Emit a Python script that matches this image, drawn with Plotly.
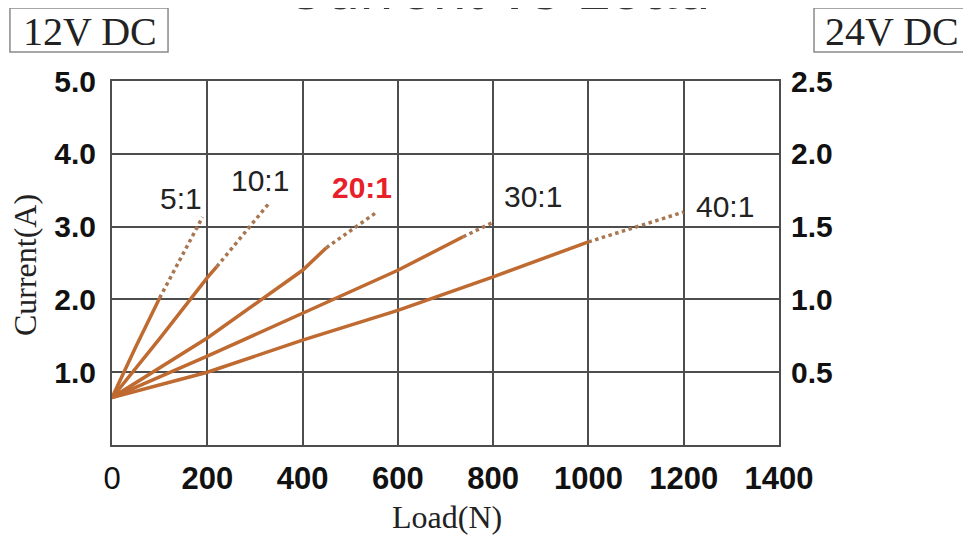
import plotly.graph_objects as go

# ---- data ----
ratios = ["5:1", "10:1", "20:1", "30:1", "40:1"]

load_5 = [0, 50, 100];              cur_5 = [0.65, 1.35, 2.02]
load_5_ext = [100, 190];            cur_5_ext = [2.02, 3.13]

load_10 = [0, 100, 200, 220];       cur_10 = [0.65, 1.46, 2.30, 2.45]
load_10_ext = [220, 332];           cur_10_ext = [2.45, 3.34]

load_20 = [0, 200, 400, 450];       cur_20 = [0.65, 1.47, 2.40, 2.71]
load_20_ext = [450, 556];           cur_20_ext = [2.71, 3.20]

load_30 = [0, 200, 400, 600, 737];  cur_30 = [0.65, 1.22, 1.81, 2.40, 2.86]
load_30_ext = [737, 797];           cur_30_ext = [2.86, 3.05]

load_40 = [0, 200, 400, 600, 800, 1000]; cur_40 = [0.65, 1.00, 1.44, 1.85, 2.31, 2.79]
load_40_ext = [1000, 1200];         cur_40_ext = [2.79, 3.20]

label_x = [145, 311, 525, 884, 1287]
label_y = [3.39, 3.63, 3.54, 3.41, 3.27]

x_ticks = [0, 200, 400, 600, 800, 1000, 1200, 1400]
y_ticks = [1.0, 2.0, 3.0, 4.0, 5.0]
y2_ticks = [0.5, 1.0, 1.5, 2.0, 2.5]

solid = [(load_5, cur_5), (load_10, cur_10), (load_20, cur_20), (load_30, cur_30), (load_40, cur_40)]
ext = [(load_5_ext, cur_5_ext), (load_10_ext, cur_10_ext), (load_20_ext, cur_20_ext),
       (load_30_ext, cur_30_ext), (load_40_ext, cur_40_ext)]

LINE = "#bf6a30"
DOT = "#a87650"
GRID = "#4d4d4d"
SANS = "Liberation Sans, Arial, sans-serif"
SERIF = "Liberation Serif, Times New Roman, serif"

fig = go.Figure()
for (lx, cy), (ex, ey) in zip(solid, ext):
    fig.add_trace(go.Scatter(x=ex, y=ey, mode="lines", line=dict(color=DOT, width=3.5, dash="dot"),
                             showlegend=False, hoverinfo="skip"))
    fig.add_trace(go.Scatter(x=lx, y=cy, mode="lines", line=dict(color=LINE, width=3.5),
                             showlegend=False, hoverinfo="skip"))

# 24V axis carrier (24V current is half of 12V current)
fig.add_trace(go.Scatter(x=load_40, y=[c / 2 for c in cur_40], yaxis="y2", mode="lines",
                         line=dict(width=0), opacity=0, showlegend=False, hoverinfo="skip"))

for i, r in enumerate(ratios):
    red = r == "20:1"
    fig.add_annotation(x=label_x[i], y=label_y[i], xref="x", yref="y",
                       text=("<b>%s</b>" % r) if red else r, xanchor="center", yanchor="middle",
                       showarrow=False, font=dict(family=SANS, size=30, color="#e8202a" if red else "#222"))

x_text = ["0"] + ["<b>%d</b>" % v for v in x_ticks[1:]]

fig.update_layout(
    width=963, height=528,
    margin=dict(l=104, r=192, t=73, b=91),
    paper_bgcolor="white", plot_bgcolor="white",
    xaxis=dict(range=[0, 1400], tickvals=x_ticks, ticktext=x_text,
               showgrid=True, gridcolor=GRID, gridwidth=1.5,
               showline=True, linecolor=GRID, linewidth=2, mirror=True,
               ticks="", ticklabelstandoff=5, zeroline=False,
               tickfont=dict(family=SANS, size=31, color="#111")),
    yaxis=dict(range=[0, 5], tickvals=y_ticks, ticktext=["<b>%.1f</b>" % v for v in y_ticks],
               showgrid=True, gridcolor=GRID, gridwidth=1.5,
               showline=True, linecolor=GRID, linewidth=2, mirror=True,
               ticks="", ticklabelstandoff=8, zeroline=False,
               tickfont=dict(family=SANS, size=30, color="#111")),
    yaxis2=dict(range=[0, 2.5], tickvals=y2_ticks, ticktext=["<b>%.1f</b>" % v for v in y2_ticks],
                overlaying="y", side="right", showgrid=False, zeroline=False, showline=False,
                ticks="", ticklabelstandoff=11,
                tickfont=dict(family=SANS, size=30, color="#111")),
)

# boxes behind the supply labels
fig.add_shape(type="rect", xref="paper", yref="paper", x0=-0.153, x1=0.084, y0=1.0797, y1=1.2005,
              line=dict(color="#8a8a8a", width=1.5), fillcolor="white")
fig.add_shape(type="rect", xref="paper", yref="paper", x0=1.0525, x1=1.30, y0=1.0797, y1=1.2005,
              line=dict(color="#8a8a8a", width=1.5), fillcolor="white")

fig.add_annotation(text="Current vs Load", xref="paper", yref="paper", x=0.576, y=1.255,
                   xanchor="center", yanchor="middle", showarrow=False,
                   font=dict(family=SANS, size=60, color="#333"))
fig.add_annotation(text="12V DC", xref="paper", yref="paper", x=-0.0337, y=1.137,
                   xanchor="center", yanchor="middle", showarrow=False,
                   font=dict(family=SERIF, size=40, color="#222"))
fig.add_annotation(text="24V DC", xref="paper", yref="paper", x=1.170, y=1.137,
                   xanchor="center", yanchor="middle", showarrow=False,
                   font=dict(family=SERIF, size=40, color="#222"))
fig.add_annotation(text="Current(A)", xref="paper", yref="paper", x=-0.130, y=0.495,
                   xanchor="center", yanchor="middle", textangle=-90, showarrow=False,
                   font=dict(family=SERIF, size=32, color="#222"))
fig.add_annotation(text="Load(N)", xref="paper", yref="paper", x=0.502, y=-0.198,
                   xanchor="center", yanchor="middle", showarrow=False,
                   font=dict(family=SERIF, size=32, color="#222"))

fig.write_html("out.html")
